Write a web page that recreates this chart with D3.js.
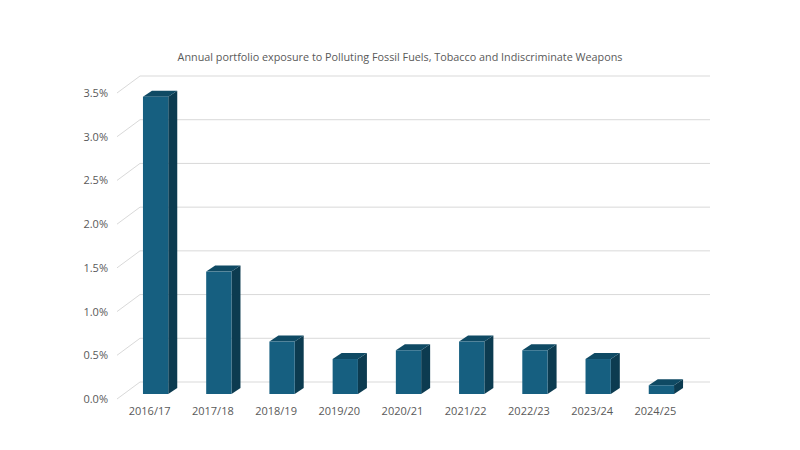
<!DOCTYPE html>
<html>
<head>
<meta charset="utf-8">
<script src="https://cdn.jsdelivr.net/npm/d3@7"></script>
<style>
  body { margin: 0; background: #fff; }
  text { font-family: "Open Sans", "Liberation Sans", sans-serif; fill: #595959; }
</style>
</head>
<body>
<script>
// chart data
const years = ["2016/17", "2017/18", "2018/19", "2019/20", "2020/21", "2021/22", "2022/23", "2023/24", "2024/25"];
const exposure = [3.4, 1.4, 0.6, 0.4, 0.5, 0.6, 0.5, 0.4, 0.1];
const ticks = [0, 0.5, 1, 1.5, 2, 2.5, 3, 3.5];
const title = "Annual portfolio exposure to Polluting Fossil Fuels, Tobacco and Indiscriminate Weapons";

const width = 800, height = 450;

// 3d-ish offsets
const wallDx = 23, wallDy = -17;   // front floor -> back wall
const barDx = 6, barDy = -5;       // label plane -> bar front face
const depthDx = 9, depthDy = -6;   // bar depth

const svg = d3.select("body").append("svg")
  .attr("width", width)
  .attr("height", height);

// y scale in the front plane
const y = d3.scaleLinear().domain([0, 3.5]).range([399, 93]);

const x = d3.scaleBand()
  .domain(years)
  .range([118, 687])
  .paddingInner(0.6)
  .paddingOuter(0.3);

svg.append("text")
  .attr("x", 400)
  .attr("y", 61)
  .attr("text-anchor", "middle")
  .style("font-size", "10.8px")
  .text(title);

// gridlines: short diagonal + back wall line
const grid = svg.append("g").attr("stroke", "#d9d9d9").attr("fill", "none");
ticks.forEach(t => {
  grid.append("path")
    .attr("d", `M117,${y(t)} L${117 + wallDx},${y(t) + wallDy} L710,${y(t) + wallDy}`)
    .attr("stroke-width", 1);
});

// y labels
svg.append("g").selectAll("text")
  .data(ticks)
  .enter().append("text")
  .attr("x", 108)
  .attr("y", d => y(d) + 4)
  .attr("text-anchor", "end")
  .style("font-size", "11px")
  .text(d => d3.format(".1f")(d) + "%");

// bars
const bars = svg.append("g").selectAll("g")
  .data(years.map((d, i) => ({ year: d, v: exposure[i] })))
  .enter().append("g");

bars.each(function(d) {
  const g = d3.select(this);
  const x0 = x(d.year) + barDx, x1 = x0 + x.bandwidth();
  const yb = y(0) + barDy, yt = y(d.v) + barDy;
  // side
  g.append("path")
    .attr("d", `M${x1},${yb} L${x1 + depthDx},${yb + depthDy} L${x1 + depthDx},${yt + depthDy} L${x1},${yt} Z`)
    .attr("fill", "#0c3b50");
  // top
  g.append("path")
    .attr("d", `M${x0},${yt} L${x0 + depthDx},${yt + depthDy} L${x1 + depthDx},${yt + depthDy} L${x1},${yt} Z`)
    .attr("fill", "#0f4a64");
  // front
  g.append("rect")
    .attr("x", x0)
    .attr("y", yt)
    .attr("width", x.bandwidth())
    .attr("height", yb - yt)
    .attr("fill", "#165f80");
});

// x labels
svg.append("g").selectAll("text")
  .data(years)
  .enter().append("text")
  .attr("x", d => x(d) + x.bandwidth() / 2)
  .attr("y", 415)
  .attr("text-anchor", "middle")
  .style("font-size", "11px")
  .text(d => d);
</script>
</body>
</html>
